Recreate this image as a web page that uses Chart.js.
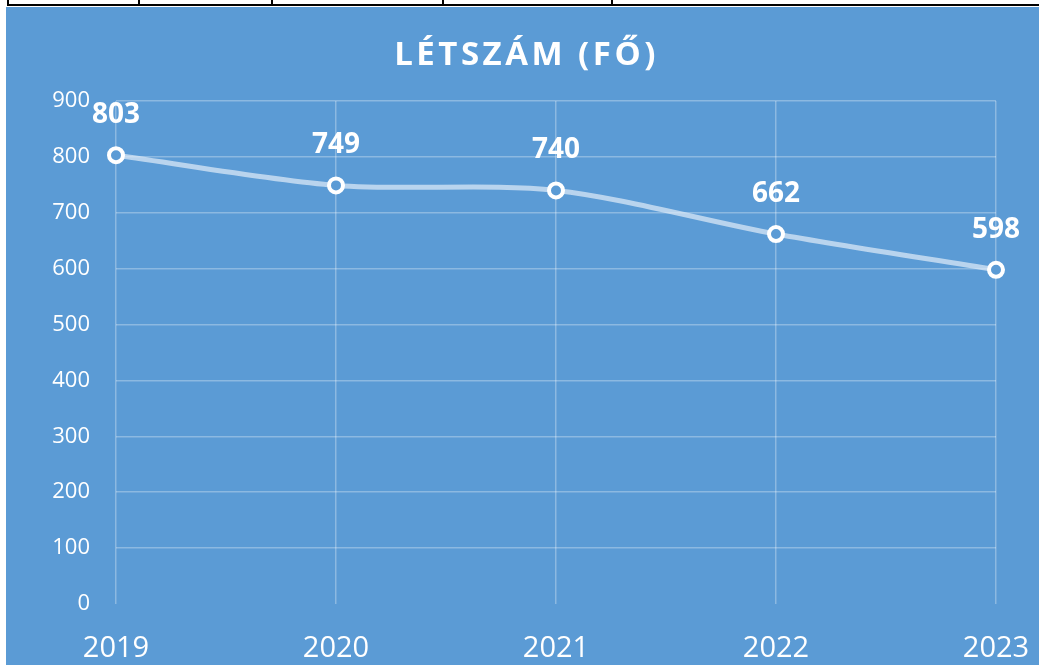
<!DOCTYPE html>
<html>
<head>
<meta charset="utf-8">
<script src="https://cdn.jsdelivr.net/npm/chart.js@4"></script>
<style>
  body { margin: 0; background: #fff; width: 1039px; height: 665px; overflow: hidden; position: relative; }
  #wrap { position: absolute; left: 6px; top: 7px; width: 1033px; height: 658px; background: #5b9bd5; }
  .hl { position: absolute; left: 7px; right: 0; top: 4px; height: 2px; background: #000; }
  .vl { position: absolute; top: 0; width: 2px; height: 5px; background: #000; }
</style>
</head>
<body>
<div class="hl"></div>
<div class="vl" style="left:7px"></div>
<div class="vl" style="left:138px"></div>
<div class="vl" style="left:271px"></div>
<div class="vl" style="left:442px"></div>
<div class="vl" style="left:611px"></div>
<div id="wrap"><canvas id="chart" width="1033" height="658"></canvas></div>
<script>
const years = ['2019', '2020', '2021', '2022', '2023']
const headcount = [803, 749, 740, 662, 598]
const yTicks = [0, 100, 200, 300, 400, 500, 600, 700, 800, 900]
const chartTitle = 'LÉTSZÁM (FŐ)'

const ctx = document.getElementById('chart').getContext('2d')
const fontFamily = "'Open Sans', 'Noto Sans', sans-serif"

// title with letter spacing + value labels above points
const extras = {
  id: 'extras',
  afterDatasetsDraw(chart) {
    const c = chart.ctx
    c.save()
    c.fillStyle = '#fff'
    c.textAlign = 'center'
    c.textBaseline = 'middle'
    c.font = 'bold 33px ' + fontFamily
    c.letterSpacing = '3.5px'
    c.fillText(chartTitle, chart.width / 2 + 4, 49)
    c.letterSpacing = '0px'
    c.font = 'bold 28px ' + fontFamily
    const meta = chart.getDatasetMeta(0)
    meta.data.forEach((pt, i) => {
      c.fillText(headcount[i], pt.x, pt.y - 40)
    })
    c.restore()
  }
}

new Chart(ctx, {
  type: 'line',
  data: {
    labels: years,
    datasets: [{
      data: headcount,
      borderColor: 'rgba(225, 236, 248, 0.7)',
      borderWidth: 5,
      tension: 0.3,
      pointRadius: 7,
      pointBorderWidth: 4,
      pointBackgroundColor: '#5b9bd5',
      pointBorderColor: '#fff'
    }]
  },
  options: {
    responsive: false,
    animation: false,
    layout: { padding: { top: 94, right: 43, left: 0, bottom: 0 } },
    plugins: {
      legend: { display: false },
      title: { display: false },
      tooltip: { enabled: false }
    },
    scales: {
      x: {
        offset: false,
        border: { display: false },
        grid: { color: 'rgba(255,255,255,0.3)', lineWidth: 1.5, drawTicks: false },
        ticks: { color: '#fff', font: { family: fontFamily, size: 29 }, padding: 27 },
        afterFit(axis) {
          axis.height = 61
          axis.paddingLeft = 0
          axis.paddingRight = 0
        }
      },
      y: {
        min: 0,
        max: 900,
        afterBuildTicks(axis) { axis.ticks = yTicks.map(v => ({ value: v })) },
        border: { display: false },
        grid: {
          color: c => c.tick && c.tick.value === 0 ? 'rgba(0,0,0,0)' : 'rgba(255,255,255,0.3)',
          lineWidth: 1.5,
          drawTicks: false
        },
        ticks: { color: '#fff', font: { family: fontFamily, size: 22 }, padding: 26 },
        afterFit(axis) {
          axis.width = 110
          axis.paddingTop = 0
          axis.paddingBottom = 0
        }
      }
    }
  },
  plugins: [extras]
})
</script>
</body>
</html>
